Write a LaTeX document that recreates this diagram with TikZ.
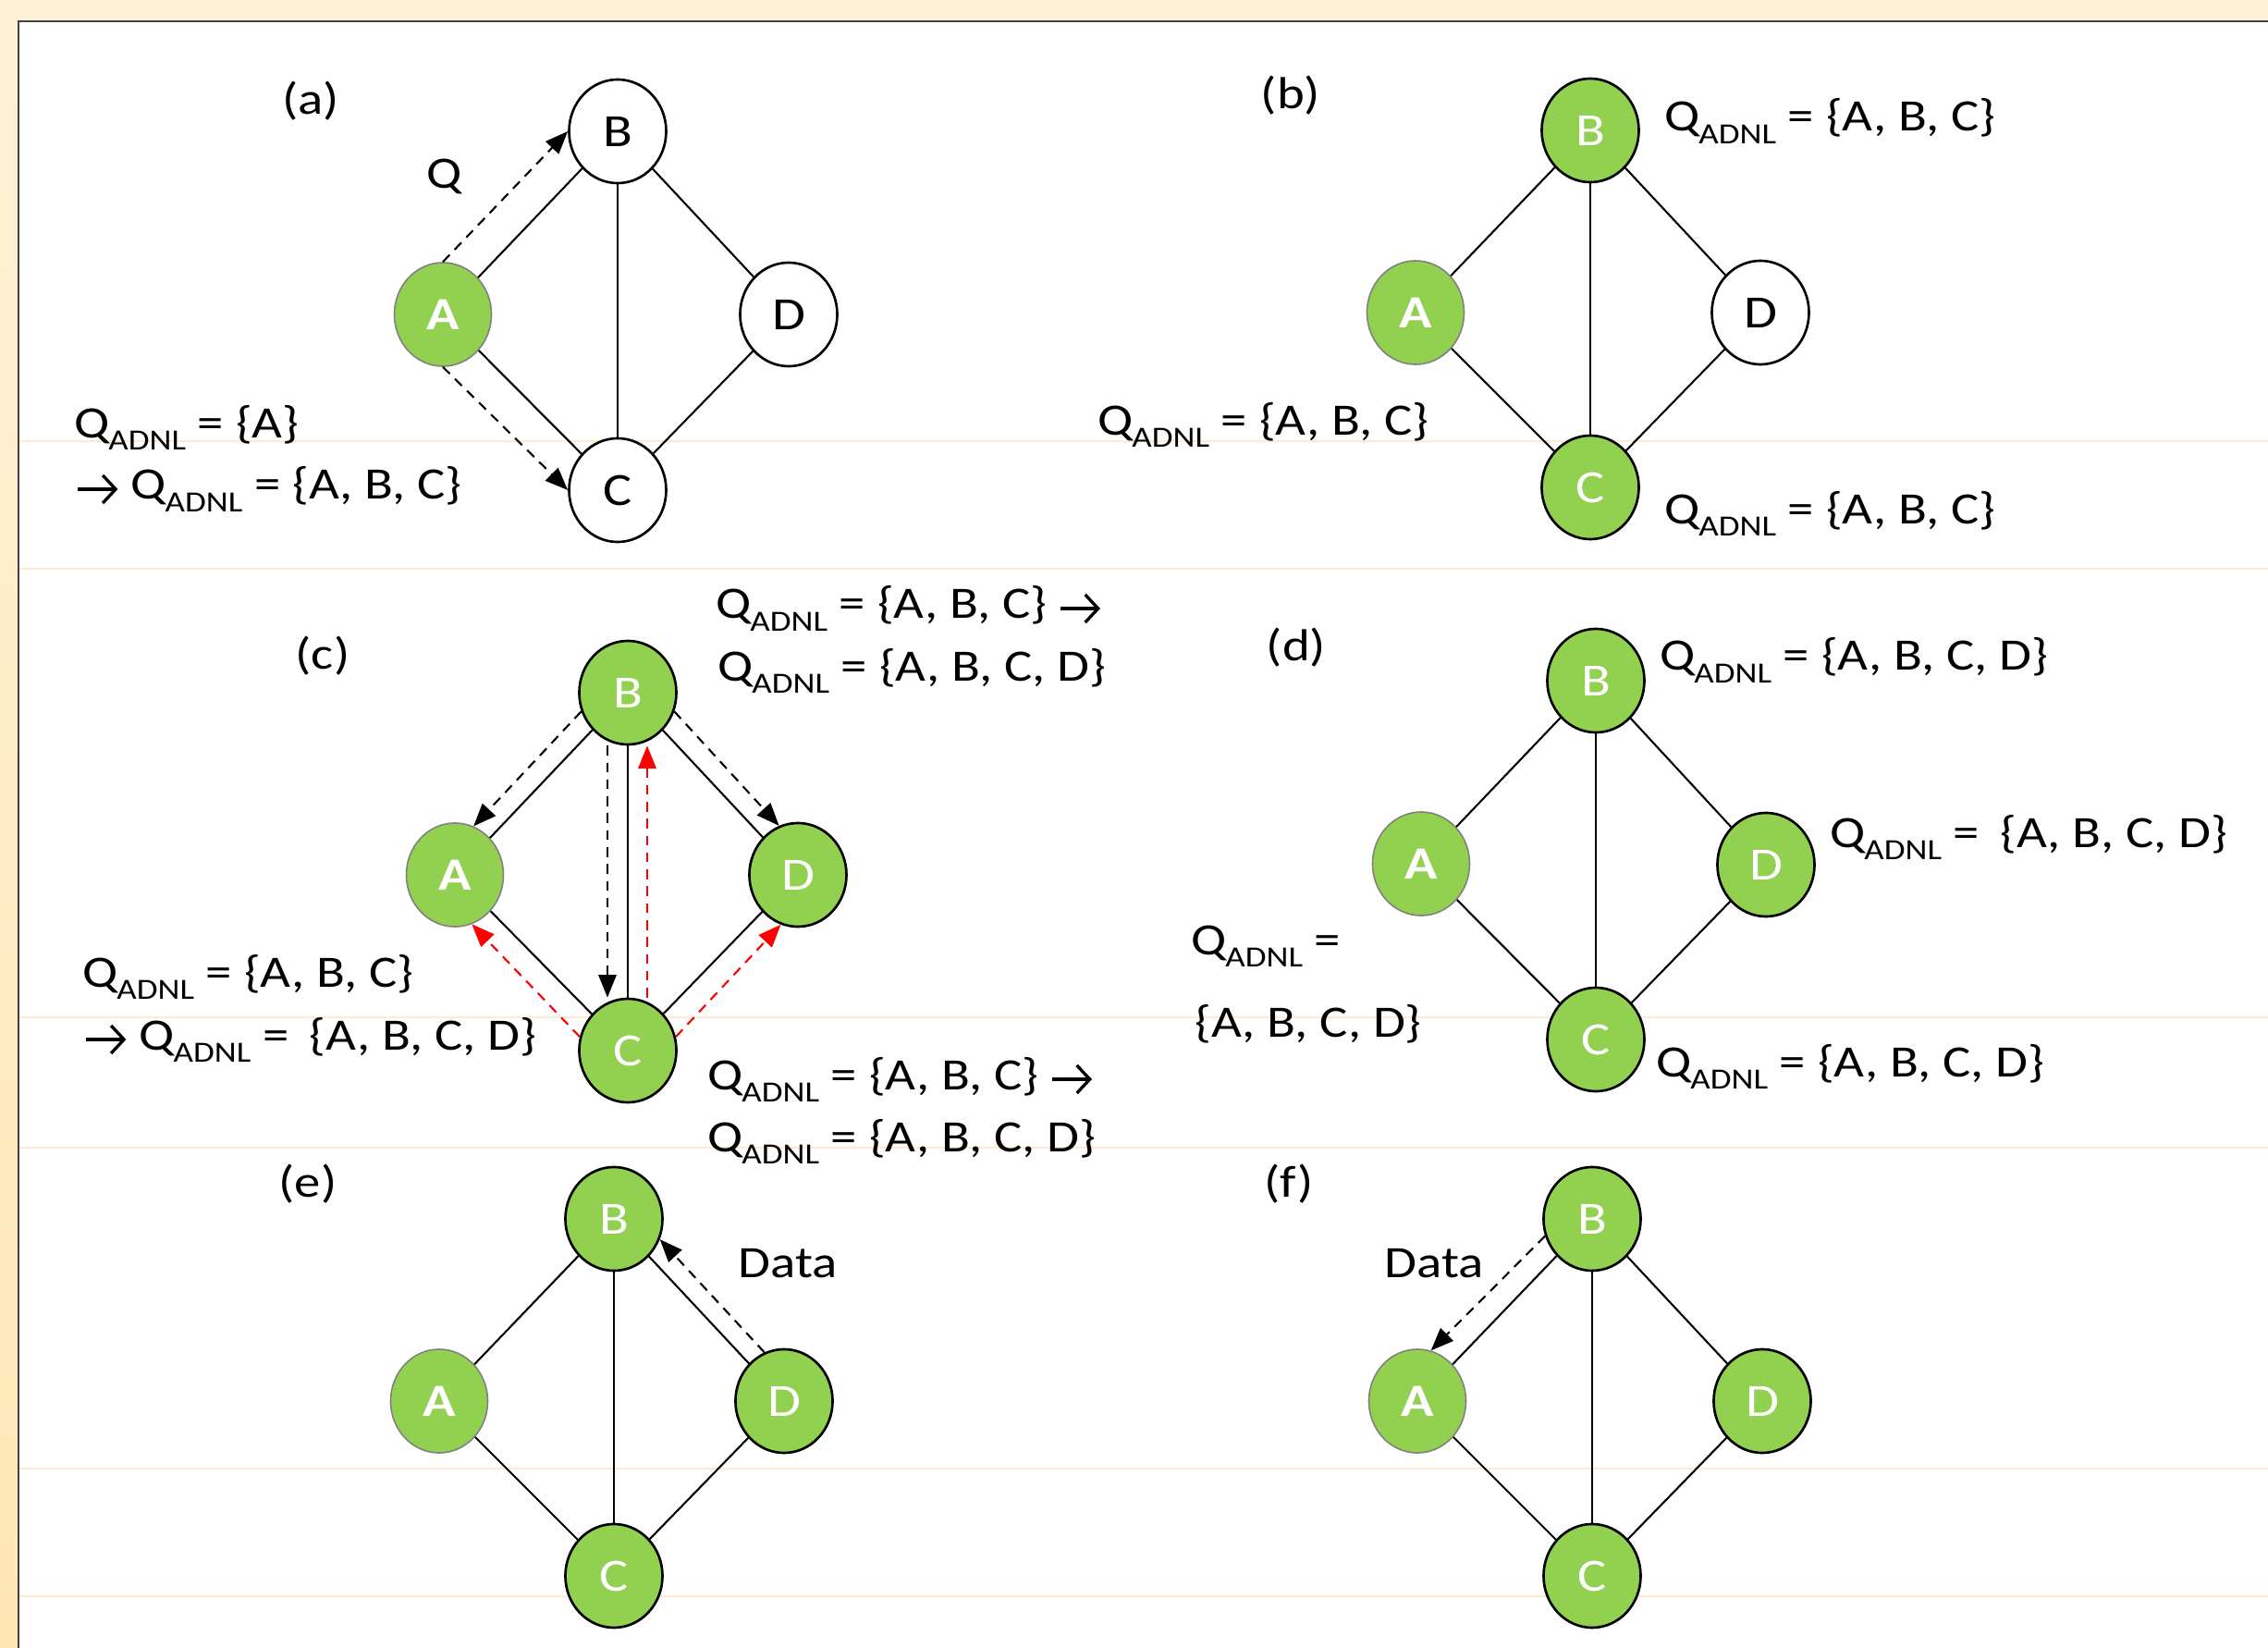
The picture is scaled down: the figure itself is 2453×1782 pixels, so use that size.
\documentclass[tikz,border=0pt]{standalone}
\usepackage{fontspec}
\setmainfont{Carlito}[FakeStretch=1.17]
\usetikzlibrary{arrows.meta,shapes.geometric,calc}
\definecolor{nodegreen}{HTML}{92D050}
\definecolor{creamtop}{HTML}{FFF1D6}
\definecolor{creamleft}{HTML}{FFE7B4}
\definecolor{faintline}{HTML}{FFEBCB}
\definecolor{framegray}{HTML}{404040}
\newcommand{\qa}{Q\kern-0.03em\raisebox{-0.27em}{\fontsize{9}{10}\selectfont ADNL}}
\newcommand{\rarr}{\tikz[baseline=0pt]\draw[line width=0.95pt,-{Straight Barb[length=0.14cm,width=0.3cm]}] (0pt,0.11cm) -- (0.43cm,0.11cm);}
\begin{document}
\begin{tikzpicture}[x=0.01cm,y=-0.01cm,
  txt/.style={font=\fontsize{13.8}{17}\selectfont, inner sep=0pt},
  lbl/.style={txt, anchor=base west},
  captxt/.style={txt, anchor=base},
  basenode/.style={ellipse, minimum width=1.05cm, minimum height=1.12cm, inner sep=0pt,
     font=\fontsize{14.2}{17}\selectfont},
  gnode/.style={basenode, draw=black, line width=0.75pt, fill=nodegreen, text=white},
  anode/.style={basenode, draw=black!50, line width=0.45pt, fill=nodegreen, text=white,
     font=\fontsize{14.2}{17}\selectfont\bfseries},
  wnode/.style={basenode, draw=black, line width=0.75pt, fill=white, text=black},
  link/.style={line width=0.6pt, black},
  darr/.style={line width=0.6pt, dash pattern=on 3pt off 2.2pt, -{Triangle[length=7pt,width=5.5pt]}},
  redarr/.style={darr, red}
]
\useasboundingbox (0,0) rectangle (2453,1782);
% background and frame
\fill[creamtop] (0,0) rectangle (2453,1782);
\shade[top color=creamtop, bottom color=creamleft] (0,23) rectangle (20,1782);
\fill[white] (20,23) rectangle (2453,1782);
\foreach \yy in {477,615,1100,1241,1588,1726}
  \draw[faintline, line width=0.6pt] (21,\yy) -- (2453,\yy);
\draw[framegray, line width=0.6pt] (2453,23) -- (20,23) -- (20,1782);

% ---------------- (a)
\node[anode] (aA) at (479,340) {A};
\node[wnode] (aB) at (668,142) {B};
\node[wnode] (aC) at (668,530) {C};
\node[wnode] (aD) at (853,340) {D};
\draw[link] (aA) -- (aB); \draw[link] (aA) -- (aC); \draw[link] (aB) -- (aC);
\draw[link] (aB) -- (aD); \draw[link] (aC) -- (aD);
\draw[darr] (aA.north) -- (aB.west);
\draw[darr] (aA.south) -- (aC.west);
\node[captxt] (acap) at (336,124) {(a)};
\node[captxt] (aq) at (481,204) {Q};
\node[lbl] (al1) at (80,473) {\qa{} = \{A\}};
\node[lbl] (al2) at (82,540) {\rarr{} \qa{} = \{A, B, C\}};

% ---------------- (b)
\node[anode] (bA) at (1531,338) {A};
\node[gnode] (bB) at (1720,141) {B};
\node[gnode] (bC) at (1720,527) {C};
\node[wnode] (bD) at (1904,338) {D};
\draw[link] (bA) -- (bB); \draw[link] (bA) -- (bC); \draw[link] (bB) -- (bC);
\draw[link] (bB) -- (bD); \draw[link] (bC) -- (bD);
\node[captxt] (bcap) at (1396,118) {(b)};
\node[lbl] (bl1) at (1800,142) {\qa{} = \{A, B, C\}};
\node[lbl] (bl2) at (1187,470) {\qa{} = \{A, B, C\}};
\node[lbl] (bl3) at (1800,566) {\qa{} = \{A, B, C\}};

% ---------------- (c)
\node[anode] (cA) at (492,946) {A};
\node[gnode] (cB) at (679,749) {B};
\node[gnode] (cC) at (679,1136) {C};
\node[gnode] (cD) at (863,946) {D};
\draw[link] (cA) -- (cB); \draw[link] (cA) -- (cC); \draw[link] (cB) -- (cC);
\draw[link] (cB) -- (cD); \draw[link] (cC) -- (cD);
\draw[darr] (cB.-22) -- (cD.111);
\draw[darr] (cB.202) -- (cA.69);
\draw[darr] ($(cB.south)+(-22,0)$) -- ($(cC.north)+(-22,0)$);
\draw[redarr] ($(cC.north)+(21,0)$) -- ($(cB.south)+(21,0)$);
\draw[redarr] (cC.16) -- (cD.251);
\draw[redarr] (cC.164) -- (cA.289);
\node[captxt] (ccap) at (349,723) {(c)};
\node[lbl] (cl1) at (774,669) {\qa{} = \{A, B, C\} \rarr};
\node[lbl] (cl2) at (776,736) {\qa{} = \{A, B, C, D\}};
\node[lbl] (cl3) at (765,1178) {\qa{} = \{A, B, C\} \rarr};
\node[lbl] (cl4) at (765,1245) {\qa{} = \{A, B, C, D\}};
\node[lbl] (cl5) at (89,1067) {\qa{} = \{A, B, C\}};
\node[lbl] (cl6) at (91,1135) {\rarr{} \qa{} = \hspace{0.2em}\{A, B, C, D\}};

% ---------------- (d)
\node[anode] (dA) at (1537,934) {A};
\node[gnode] (dB) at (1726,736) {B};
\node[gnode] (dC) at (1726,1124) {C};
\node[gnode] (dD) at (1910,935) {D};
\draw[link] (dA) -- (dB); \draw[link] (dA) -- (dC); \draw[link] (dB) -- (dC);
\draw[link] (dB) -- (dD); \draw[link] (dC) -- (dD);
\node[captxt] (dcap) at (1402,714) {(d)};
\node[lbl] (dl1) at (1795,725) {\qa{} = \{A, B, C, D\}};
\node[lbl] (dl2) at (1979,916) {\qa{} = \hspace{0.2em}\{A, B, C, D\}};
\node[lbl] (dl3) at (1288,1032) {\qa{} =};
\node[lbl] (dl4) at (1292,1121) {\{A, B, C, D\}};
\node[lbl] (dl5) at (1791,1164) {\qa{} = \{A, B, C, D\}};

% ---------------- (e)
\node[anode] (eA) at (475,1515) {A};
\node[gnode] (eB) at (664,1318) {B};
\node[gnode] (eC) at (664,1704) {C};
\node[gnode] (eD) at (848,1515) {D};
\draw[link] (eA) -- (eB); \draw[link] (eA) -- (eC); \draw[link] (eB) -- (eC);
\draw[link] (eB) -- (eD); \draw[link] (eC) -- (eD);
\draw[darr] (eD.112) -- (eB.-24);
\node[captxt] (ecap) at (333,1294) {(e)};
\node[lbl] (edata) at (798,1381) {Data};

% ---------------- (f)
\node[anode] (fA) at (1533,1515) {A};
\node[gnode] (fB) at (1722,1318) {B};
\node[gnode] (fC) at (1722,1704) {C};
\node[gnode] (fD) at (1906,1515) {D};
\draw[link] (fA) -- (fB); \draw[link] (fA) -- (fC); \draw[link] (fB) -- (fC);
\draw[link] (fB) -- (fD); \draw[link] (fC) -- (fD);
\draw[darr] (fB.200) -- (fA.75);
\node[captxt] (fcap) at (1394,1294) {(f)};
\node[lbl] (fdata) at (1497,1381) {Data};
\end{tikzpicture}
\end{document}
